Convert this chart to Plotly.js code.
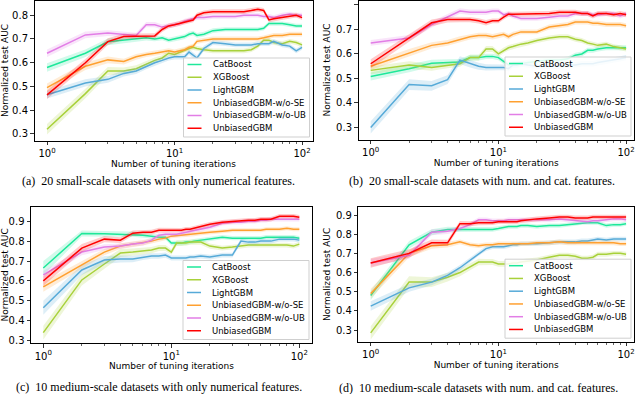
<!DOCTYPE html>
<html>
<head>
<meta charset="utf-8">
<script src="https://cdn.plot.ly/plotly-3.0.1.min.js"></script>
<style>
body { margin: 0; background: #fff; }
#plot { width: 640px; height: 394px; }
</style>
</head>
<body>
<div id="plot"></div>
<script>
/* tuning iterations shared by every curve */
var iters = [1, 2, 3, 4, 5, 6, 7, 8, 9, 10, 11, 12, 13, 14, 15, 17, 20, 25, 30, 35, 40, 45, 50, 55, 60, 70, 80, 90, 100];

var names = ["CatBoost", "XGBoost", "LightGBM", "UnbiasedGBM-w/o-SE", "UnbiasedGBM-w/o-UB", "UnbiasedGBM"];
var colors = ["#1ee89a", "#a8d13a", "#56aad8", "#ffa030", "#e27ee6", "#ff0000"];
var bands = ["rgba(30,232,154,0.2)", "rgba(168,209,58,0.2)", "rgba(86,170,216,0.2)",
             "rgba(255,160,48,0.2)", "rgba(226,126,230,0.2)", "rgba(255,0,0,0.2)"];

/* (a) 20 small-scale, numerical only */
var catA  = [.58,.64,.688,.695,.70,.705,.70,.705,.695,.70,.705,.71,.72,.725,.715,.72,.735,.74,.74,.74,.74,.74,.745,.765,.765,.765,.76,.755,.755];
var xgbA  = [.32,.47,.565,.565,.575,.595,.61,.62,.64,.635,.645,.655,.66,.665,.66,.655,.65,.65,.65,.65,.655,.67,.695,.695,.685,.68,.69,.685,.675];
var lgbA  = [.465,.515,.53,.555,.565,.585,.60,.61,.62,.625,.625,.625,.645,.63,.62,.66,.685,.68,.675,.675,.675,.68,.68,.68,.69,.675,.67,.65,.665];
var woseA = [.495,.585,.612,.605,.625,.635,.64,.645,.65,.645,.65,.655,.665,.67,.69,.695,.70,.70,.70,.70,.70,.70,.705,.71,.715,.715,.72,.72,.72];
var woubA = [.64,.717,.725,.72,.715,.76,.76,.75,.755,.76,.765,.775,.78,.785,.79,.79,.795,.795,.795,.80,.80,.80,.795,.795,.79,.80,.805,.80,.80];
var ugbmA = [.465,.60,.689,.71,.712,.713,.713,.74,.755,.76,.765,.77,.775,.78,.80,.81,.815,.815,.815,.815,.82,.825,.82,.78,.785,.79,.795,.80,.79];
var catAErr  = [.018,.016,.014,.012,.011,.011,.01,.01,.01,.01,.01,.01,.01,.01,.01,.01,.01,.009,.009,.009,.009,.009,.009,.009,.009,.009,.009,.009,.009];
var xgbAErr  = [.022,.02,.017,.015,.014,.013,.012,.012,.012,.011,.011,.011,.011,.011,.01,.01,.01,.01,.01,.01,.01,.01,.01,.01,.01,.01,.01,.01,.01];
var lgbAErr  = [.016,.015,.014,.013,.012,.012,.011,.011,.011,.011,.011,.011,.011,.011,.011,.011,.01,.01,.01,.01,.01,.01,.01,.01,.01,.01,.01,.01,.01];
var woseAErr = [.018,.016,.014,.012,.012,.011,.011,.011,.011,.011,.011,.011,.01,.01,.01,.01,.01,.01,.01,.01,.01,.01,.01,.01,.01,.01,.01,.01,.01];
var woubAErr = [.016,.014,.012,.012,.011,.011,.011,.011,.01,.01,.01,.01,.01,.01,.01,.01,.01,.01,.01,.01,.01,.01,.01,.01,.01,.01,.01,.01,.01];
var ugbmAErr = [.018,.016,.014,.012,.011,.011,.011,.011,.01,.01,.01,.01,.01,.01,.01,.01,.01,.01,.01,.01,.01,.01,.01,.01,.01,.01,.01,.01,.01];

/* (b) 20 small-scale, num. and cat. */
var catB  = [.508,.54,.562,.565,.567,.585,.585,.59,.59,.585,.57,.555,.56,.56,.56,.565,.57,.575,.575,.58,.595,.60,.615,.615,.62,.625,.625,.625,.625];
var xgbB  = [.533,.555,.545,.555,.56,.585,.585,.62,.62,.60,.615,.625,.63,.635,.64,.645,.655,.665,.67,.67,.66,.655,.645,.64,.635,.64,.63,.625,.62];
var lgbB  = [.30,.475,.47,.495,.575,.56,.55,.545,.545,.545,.545,.54,.555,.555,.56,.555,.55,.55,.55,.555,.555,.56,.56,.56,.565,.57,.575,.58,.585];
var woseB = [.55,.605,.635,.645,.66,.67,.675,.675,.67,.675,.68,.67,.68,.685,.69,.69,.69,.71,.715,.72,.73,.73,.73,.725,.725,.72,.72,.72,.715];
var woubB = [.645,.665,.72,.75,.775,.77,.77,.77,.775,.775,.76,.765,.755,.75,.745,.745,.745,.75,.755,.755,.765,.765,.765,.76,.76,.765,.765,.755,.765];
var ugbmB = [.56,.665,.727,.74,.74,.74,.735,.727,.735,.735,.75,.762,.762,.762,.762,.762,.765,.765,.77,.77,.77,.765,.765,.755,.765,.765,.76,.765,.76];
var catBErr  = [.016,.015,.014,.013,.012,.012,.012,.011,.011,.011,.011,.011,.011,.011,.011,.011,.011,.01,.01,.01,.01,.01,.01,.01,.01,.01,.01,.01,.01];
var xgbBErr  = [.016,.015,.014,.013,.012,.012,.012,.012,.012,.011,.011,.011,.011,.011,.011,.011,.01,.01,.01,.01,.01,.01,.01,.01,.01,.01,.01,.01,.01];
var lgbBErr  = [.025,.022,.02,.018,.016,.015,.014,.013,.013,.012,.012,.012,.012,.012,.012,.011,.011,.011,.011,.011,.011,.011,.011,.011,.011,.011,.011,.011,.011];
var woseBErr = [.016,.015,.013,.012,.012,.011,.011,.011,.011,.011,.011,.011,.011,.01,.01,.01,.01,.01,.01,.01,.01,.01,.01,.01,.01,.01,.01,.01,.01];
var woubBErr = [.012,.012,.012,.011,.011,.011,.011,.011,.01,.01,.01,.01,.01,.01,.01,.01,.01,.01,.01,.01,.01,.01,.01,.01,.01,.01,.01,.01,.01];
var ugbmBErr = [.018,.016,.014,.012,.011,.011,.011,.011,.01,.01,.01,.01,.01,.01,.01,.01,.01,.01,.01,.01,.01,.01,.01,.01,.01,.01,.01,.01,.01];

/* (c) 10 medium-scale, numerical only */
var catC  = [.665,.838,.837,.835,.835,.83,.825,.82,.82,.79,.79,.79,.795,.795,.80,.805,.81,.82,.815,.815,.815,.815,.815,.82,.82,.82,.82,.82,.815];
var xgbC  = [.34,.605,.685,.74,.745,.75,.755,.765,.765,.745,.79,.79,.79,.795,.795,.795,.775,.765,.77,.775,.78,.78,.78,.78,.78,.78,.78,.775,.785];
var lgbC  = [.465,.655,.705,.71,.71,.72,.725,.725,.73,.715,.715,.715,.715,.72,.72,.725,.72,.73,.73,.80,.795,.795,.80,.80,.80,.81,.81,.81,.805];
var woseC = [.57,.68,.745,.775,.785,.79,.80,.81,.815,.825,.828,.83,.832,.835,.835,.84,.845,.85,.855,.855,.855,.855,.855,.86,.86,.86,.865,.86,.86];
var woubC = [.63,.745,.77,.775,.785,.79,.805,.83,.835,.835,.835,.84,.845,.85,.855,.86,.87,.89,.895,.895,.90,.90,.905,.905,.91,.91,.91,.91,.91];
var ugbmC = [.60,.765,.81,.805,.84,.845,.845,.855,.855,.855,.855,.855,.86,.86,.865,.875,.885,.895,.90,.905,.905,.905,.91,.91,.91,.925,.925,.925,.92];
var catCErr  = [.035,.015,.014,.013,.013,.012,.012,.012,.012,.012,.012,.012,.012,.011,.011,.011,.011,.011,.011,.011,.011,.011,.011,.011,.011,.011,.011,.011,.011];
var xgbCErr  = [.035,.028,.024,.02,.018,.017,.016,.015,.015,.014,.014,.014,.013,.013,.013,.013,.013,.012,.012,.012,.012,.012,.012,.012,.012,.012,.012,.012,.012];
var lgbCErr  = [.035,.025,.02,.018,.016,.015,.014,.014,.013,.013,.013,.013,.013,.012,.012,.012,.012,.012,.012,.012,.012,.012,.012,.012,.012,.012,.012,.012,.012];
var woseCErr = [.025,.02,.016,.014,.013,.012,.012,.012,.011,.011,.011,.011,.011,.011,.011,.011,.01,.01,.01,.01,.01,.01,.01,.01,.01,.01,.01,.01,.01];
var woubCErr = [.02,.016,.014,.013,.012,.012,.012,.012,.012,.012,.012,.012,.012,.012,.012,.012,.012,.012,.012,.012,.012,.012,.012,.012,.012,.012,.012,.012,.012];
var ugbmCErr = [.025,.02,.016,.014,.013,.012,.012,.012,.011,.011,.011,.011,.011,.011,.011,.011,.011,.011,.011,.011,.011,.011,.011,.011,.011,.011,.011,.011,.011];

/* (d) 10 medium-scale, num. and cat. */
var catD  = [.48,.745,.81,.825,.825,.825,.825,.825,.825,.83,.835,.84,.84,.84,.845,.845,.84,.845,.845,.85,.855,.86,.86,.86,.86,.845,.85,.85,.855];
var xgbD  = [.285,.55,.55,.575,.60,.63,.655,.655,.655,.645,.645,.645,.65,.65,.655,.66,.665,.68,.69,.69,.685,.675,.675,.68,.695,.695,.70,.70,.695];
var lgbD  = [.425,.52,.55,.585,.625,.665,.70,.725,.735,.735,.735,.74,.745,.745,.75,.75,.75,.755,.76,.76,.76,.765,.765,.77,.775,.77,.775,.775,.775];
var woseD = [.49,.70,.74,.745,.76,.745,.74,.745,.745,.75,.75,.75,.75,.75,.75,.75,.755,.755,.76,.755,.755,.755,.755,.755,.755,.755,.755,.75,.75];
var woubD = [.65,.69,.81,.815,.83,.85,.875,.875,.87,.87,.87,.875,.875,.875,.875,.875,.875,.875,.88,.875,.87,.865,.865,.87,.87,.875,.88,.88,.875];
var ugbmD = [.65,.70,.755,.755,.855,.855,.86,.86,.86,.865,.865,.865,.865,.865,.87,.875,.88,.885,.89,.89,.885,.885,.885,.89,.89,.89,.89,.89,.89];
var catDErr  = [.025,.02,.016,.014,.013,.012,.012,.012,.012,.012,.012,.011,.011,.011,.011,.011,.011,.011,.011,.011,.011,.011,.011,.011,.011,.011,.011,.011,.011];
var xgbDErr  = [.035,.03,.025,.022,.02,.018,.017,.016,.016,.015,.015,.015,.014,.014,.014,.014,.013,.013,.013,.013,.013,.013,.013,.013,.013,.013,.013,.013,.013];
var lgbDErr  = [.025,.02,.017,.015,.014,.013,.013,.013,.012,.012,.012,.012,.012,.012,.012,.012,.012,.012,.012,.012,.012,.012,.012,.012,.012,.012,.012,.012,.012];
var woseDErr = [.025,.02,.016,.014,.013,.012,.012,.012,.012,.012,.012,.012,.012,.012,.012,.012,.012,.012,.012,.012,.012,.012,.012,.012,.012,.012,.012,.012,.012];
var woubDErr = [.02,.018,.016,.014,.013,.012,.012,.012,.012,.012,.012,.012,.012,.012,.012,.012,.012,.012,.012,.012,.012,.012,.012,.012,.012,.012,.012,.012,.012];
var ugbmDErr = [.025,.022,.018,.016,.014,.013,.013,.012,.012,.012,.012,.012,.012,.012,.012,.012,.012,.012,.012,.012,.012,.012,.012,.012,.012,.012,.012,.012,.012];

var captions = [
  "(a)\u00a0 20 small-scale datasets with only numerical features.",
  "(b)\u00a0 20 small-scale datasets with num. and cat. features.",
  "(c)\u00a0 10 medium-scale datasets with only numerical features.",
  "(d)\u00a0 10 medium-scale datasets with num. and cat. features."
];

/* panel frames in pixels: left, right, top, bottom */
var panels = [
  {means: [catA, xgbA, lgbA, woseA, woubA, ugbmA], errs: [catAErr, xgbAErr, lgbAErr, woseAErr, woubAErr, ugbmAErr],
   frame: [34.5, 312.5, 0.5, 140.5], xr: [-0.098, 2.082], yr: [0.2726, 0.862], yt: [0.3, 0.4, 0.5, 0.6, 0.7, 0.8], cap: [158, 181]},
  {means: [catB, xgbB, lgbB, woseB, woubB, ugbmB], errs: [catBErr, xgbBErr, lgbBErr, woseBErr, woubBErr, ugbmBErr],
   frame: [358.5, 634, 0.5, 139.5], xr: [-0.0956, 2.062], yr: [0.251, 0.818], yt: [0.3, 0.4, 0.5, 0.6, 0.7, 0.8], cap: [482, 181]},
  {means: [catC, xgbC, lgbC, woseC, woubC, ugbmC], errs: [catCErr, xgbCErr, lgbCErr, woseCErr, woubCErr, ugbmCErr],
   frame: [31, 312, 206.7, 343], xr: [-0.096, 2.099], yr: [0.288, 0.973], yt: [0.3, 0.4, 0.5, 0.6, 0.7, 0.8, 0.9], cap: [159, 387]},
  {means: [catD, xgbD, lgbD, woseD, woubD, ugbmD], errs: [catDErr, xgbDErr, lgbDErr, woseDErr, woubDErr, ugbmDErr],
   frame: [358.3, 634, 207, 341.7], xr: [-0.097, 2.062], yr: [0.239, 0.942], yt: [0.3, 0.4, 0.5, 0.6, 0.7, 0.8, 0.9], cap: [478, 388]}
];

var W = 640, H = 394;
function px(v) { return v / W; }
function py(v) { return 1 - v / H; }

var font = "DejaVu Sans";
var data = [];
var shapes = [];
var annotations = [];
var layout = {
  width: W, height: H,
  margin: {l: 0, r: 0, t: 0, b: 0},
  paper_bgcolor: "#fff", plot_bgcolor: "#fff",
  showlegend: false
};

panels.forEach(function (p, k) {
  var sfx = k === 0 ? "" : String(k + 1);
  var xa = "x" + sfx, ya = "y" + sfx;
  var f = p.frame;

  layout["xaxis" + sfx] = {
    type: "log", anchor: ya, domain: [px(f[0]), px(f[1])], range: p.xr,
    showline: true, mirror: true, linecolor: "#000", linewidth: 1,
    ticks: "outside", ticklen: 3.5, tickwidth: 0.8, tickcolor: "#000",
    tickvals: [1, 10, 100], ticktext: ["10<sup>0</sup>", "10<sup>1</sup>", "10<sup>2</sup>"],
    tickfont: {family: font, size: 10, color: "#000"},
    minor: {ticks: "outside", ticklen: 2, tickwidth: 0.6, tickcolor: "#000", showgrid: false,
            tickvals: [2, 3, 4, 5, 6, 7, 8, 9, 20, 30, 40, 50, 60, 70, 80, 90]},
    showgrid: false, zeroline: false, fixedrange: true,
    title: {text: "Number of tuning iterations", font: {family: font, size: 9, color: "#000"}, standoff: 2}
  };
  layout["yaxis" + sfx] = {
    anchor: xa, domain: [py(f[3]), py(f[2])], range: p.yr,
    showline: true, mirror: true, linecolor: "#000", linewidth: 1,
    ticks: "outside", ticklen: 3.5, tickwidth: 0.8, tickcolor: "#000",
    tickvals: p.yt, tickformat: ".1f",
    tickfont: {family: font, size: 10, color: "#000"},
    showgrid: false, zeroline: false, fixedrange: true,
    title: {text: "Normalized test AUC", font: {family: font, size: 9, color: "#000"}, standoff: 3}
  };

  p.means.forEach(function (m, i) {
    var e = p.errs[i];
    var up = m.map(function (v, j) { return v + e[j]; });
    var lo = m.map(function (v, j) { return v - e[j]; });
    data.push({
      x: iters.concat(iters.slice().reverse()),
      y: up.concat(lo.reverse()),
      xaxis: xa, yaxis: ya, type: "scatter", mode: "lines",
      fill: "toself", fillcolor: bands[i], line: {width: 0},
      hoverinfo: "skip", showlegend: false
    });
    data.push({
      x: iters, y: m, xaxis: xa, yaxis: ya, type: "scatter", mode: "lines",
      name: names[i], line: {color: colors[i], width: 1.5}, showlegend: false
    });
  });

  /* matplotlib-style legend box in the lower right of each panel */
  var right = f[1] - 3, bottom = f[3] - 3.5, lw = 126, lh = 79;
  var left = right - lw, top = bottom - lh;
  shapes.push({type: "rect", xref: "paper", yref: "paper", layer: "above",
    x0: px(left), x1: px(right), y0: py(bottom), y1: py(top),
    fillcolor: "rgba(255,255,255,0.85)", line: {color: "#cfcfcf", width: 1}});
  names.forEach(function (n, i) {
    var yy = top + 6.5 + i * 12.75;
    shapes.push({type: "line", xref: "paper", yref: "paper", layer: "above",
      x0: px(left + 4), x1: px(left + 18), y0: py(yy), y1: py(yy),
      line: {color: colors[i], width: 1.5}});
    annotations.push({xref: "paper", yref: "paper", x: px(left + 27), y: py(yy),
      xanchor: "left", yanchor: "middle", showarrow: false, text: n,
      font: {family: font, size: 8.5, color: "#000"}});
  });

  annotations.push({xref: "paper", yref: "paper", x: px(p.cap[0]), y: py(p.cap[1]),
    xanchor: "center", yanchor: "middle", showarrow: false, text: captions[k],
    font: {family: "Liberation Serif", size: 12, color: "#000"}});
});

layout.shapes = shapes;
layout.annotations = annotations;

Plotly.newPlot("plot", data, layout, {displayModeBar: false, staticPlot: true});
</script>
</body>
</html>
